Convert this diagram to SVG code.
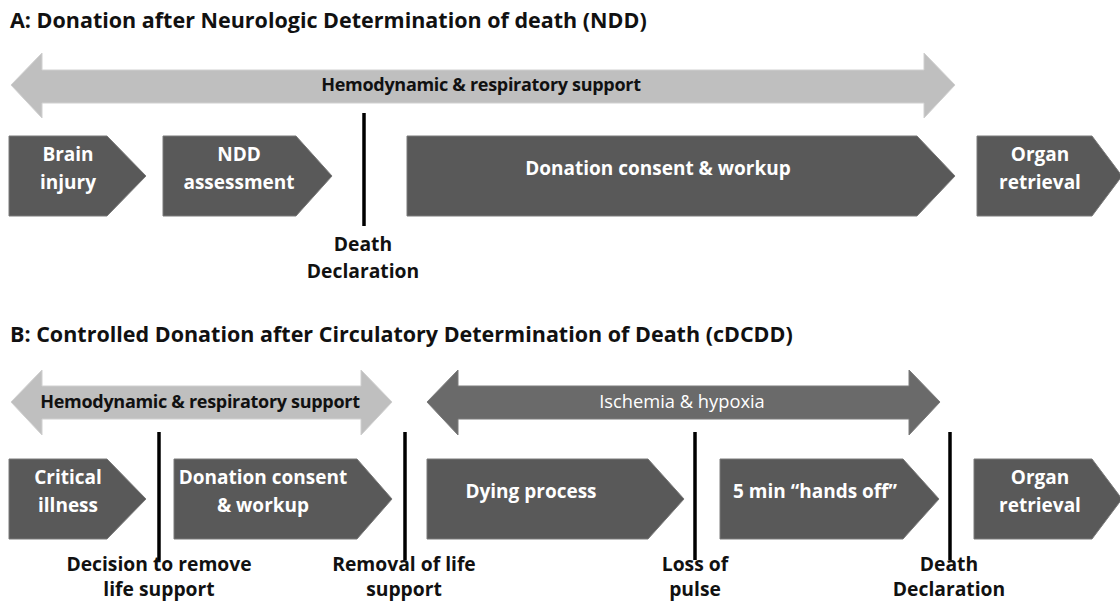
<svg xmlns="http://www.w3.org/2000/svg" width="1120" height="602" viewBox="0 0 1120 602">
<style>
.title{font-family:"Open Sans","Liberation Sans",sans-serif;font-weight:bold;font-size:21.5px;fill:#111}
.box{fill:#595959;stroke:#7a7a7a;stroke-width:1}
.bt{font-family:"Open Sans","Liberation Sans",sans-serif;font-weight:bold;font-size:19px;fill:#fff;text-anchor:middle}
.lt{font-family:"Open Sans","Liberation Sans",sans-serif;font-weight:bold;font-size:18px;fill:#111;text-anchor:middle;letter-spacing:-0.3px}
.dt{font-family:"Open Sans","Liberation Sans",sans-serif;font-size:18.3px;fill:#fff;text-anchor:middle}
.lab{font-family:"Open Sans","Liberation Sans",sans-serif;font-weight:bold;font-size:19.3px;fill:#111;text-anchor:middle}
.light{fill:#bfbfbf;stroke:#d0d0d0;stroke-width:1}
.dark{fill:#6a6a6a;stroke:#7c7c7c;stroke-width:1}
.mark{stroke:#000;stroke-width:3.5}
</style>
<rect width="1120" height="602" fill="#fff"/>
<text class="title" x="10" y="28">A: Donation after Neurologic Determination of death (NDD)</text>
<text class="title" x="10" y="342">B: Controlled Donation after Circulatory Determination of Death (cDCDD)</text>

<g id="a-support">
<polygon class="light" points="11,85 42,53 42,70 924,70 924,53 955,85 924,118 924,103 42,103 42,118"/>
<text class="lt" x="481" y="91">Hemodynamic &amp; respiratory support</text>
</g>
<g id="a-brain"><polygon class="box" points="9,136 107,136 146,176 107,216 9,216"/><text class="bt" x="68" y="161">Brain</text><text class="bt" x="68" y="189">injury</text></g>
<g id="a-ndd"><polygon class="box" points="163,136 296,136 332,176 296,216 163,216"/><text class="bt" x="239" y="161">NDD</text><text class="bt" x="239" y="189">assessment</text></g>
<g id="a-consent"><polygon class="box" points="407,136 917,136 955,176 917,216 407,216"/><text class="bt" x="658" y="175">Donation consent &amp; workup</text></g>
<g id="a-organ"><polygon class="box" points="977,136 1092,136 1122,176 1092,216 977,216"/><text class="bt" x="1040" y="161">Organ</text><text class="bt" x="1040" y="189">retrieval</text></g>
<g id="a-death"><text class="lab" x="363" y="251">Death</text><text class="lab" x="363" y="278">Declaration</text></g>

<g id="b-support">
<polygon class="light" points="11,402 42,370 42,386 361,386 361,370 392,402 361,435 361,419 42,419 42,435"/>
<text class="lt" x="200" y="408">Hemodynamic &amp; respiratory support</text>
</g>
<g id="b-ischemia">
<polygon class="dark" points="427,402 458,370 458,386 909,386 909,370 940,402 909,435 909,419 458,419 458,435"/>
<text class="dt" x="682" y="408">Ischemia &amp; hypoxia</text>
</g>
<g id="b-critical"><polygon class="box" points="9,459 107,459 146,499 107,539 9,539"/><text class="bt" x="68" y="484">Critical</text><text class="bt" x="68" y="512">illness</text></g>
<g id="b-consent"><polygon class="box" points="174,459 357,459 392,499 357,539 174,539"/><text class="bt" x="263" y="484">Donation consent</text><text class="bt" x="263" y="512">&amp; workup</text></g>
<g id="b-dying"><polygon class="box" points="427,459 648,459 684,499 648,539 427,539"/><text class="bt" x="531" y="498">Dying process</text></g>
<g id="b-handsoff"><polygon class="box" points="720,459 903,459 939,499 903,539 720,539"/><text class="bt" x="815" y="498">5 min “hands off”</text></g>
<g id="b-organ"><polygon class="box" points="974,459 1092,459 1122,499 1092,539 974,539"/><text class="bt" x="1040" y="484">Organ</text><text class="bt" x="1040" y="512">retrieval</text></g>
<g id="b-labels">
<text class="lab" x="159" y="571">Decision to remove</text><text class="lab" x="159" y="596">life support</text>
<text class="lab" x="404" y="571">Removal of life</text><text class="lab" x="404" y="596">support</text>
<text class="lab" x="695" y="571">Loss of</text><text class="lab" x="695" y="596">pulse</text>
<text class="lab" x="949" y="571">Death</text><text class="lab" x="949" y="596">Declaration</text>
</g>

<g id="connectors">
<line class="mark" x1="364" y1="113" x2="364" y2="226"/>
<line class="mark" x1="159" y1="432" x2="159" y2="560"/>
<line class="mark" x1="405" y1="432" x2="405" y2="560"/>
<line class="mark" x1="695" y1="432" x2="695" y2="560"/>
<line class="mark" x1="950" y1="432" x2="950" y2="560"/>
</g>
</svg>
